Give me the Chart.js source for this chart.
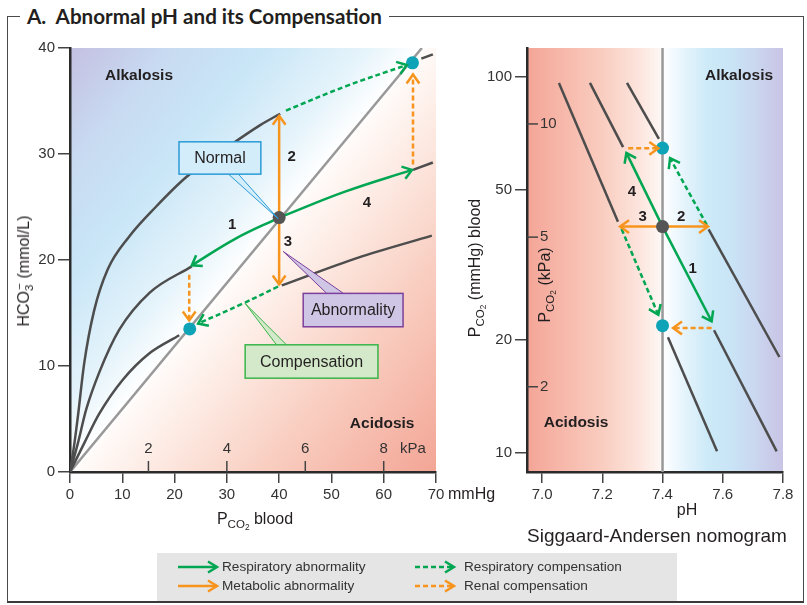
<!DOCTYPE html>
<html><head><meta charset="utf-8">
<script src="https://cdn.jsdelivr.net/npm/chart.js@4.4.1/dist/chart.umd.min.js"></script>
<style>
html,body{margin:0;padding:0;background:#fff}
body{width:807px;height:605px;position:relative;overflow:hidden;font-family:"Liberation Sans",Arial,sans-serif;color:#231f20}
#frame{position:absolute;left:7px;top:16px;width:797px;height:587px;box-sizing:border-box;border:1.5px solid #4a4a4a;border-bottom:2.5px solid #3a3a3a}
#title{position:absolute;left:20px;top:3px;padding:0 7px;background:#fff;font:bold 20px Lato,"Open Sans",sans-serif;white-space:nowrap;line-height:26px;color:#231f20}
#title span{display:inline-block;transform-origin:left center}
canvas{position:absolute;top:0}
#cL{left:0}
#cR{left:460px}
.lbl{position:absolute;white-space:nowrap;font-size:16px;line-height:1;color:#231f20}
.rot{transform:translate(-50%,-50%) rotate(-90deg)}
.ctr{transform:translate(-50%,-50%)}
sub{font-size:0.72em;vertical-align:-0.32em;line-height:0}
sup{font-size:0.72em;vertical-align:0.55em;line-height:0}
#legend{position:absolute;left:157px;top:553px;width:520px;height:48px;background:#e5e5e5}
.li{position:absolute;font-size:13.6px;line-height:1;color:#333;white-space:nowrap}
.la{position:absolute}
</style></head>
<body>
<div id="frame"></div>
<div id="title"><span id="titleText">A.&nbsp; Abnormal pH and its Compensation</span></div>
<canvas id="cL" width="460" height="540"></canvas>
<canvas id="cR" width="347" height="540"></canvas>

<div class="lbl rot" style="left:24px;top:271px">HCO<sub>3</sub><sup style="margin-left:-0.45em">−</sup> (mmol/L)</div>
<div class="lbl" style="left:448px;top:486px">mmHg</div>
<div class="lbl ctr" style="left:255px;top:519px">P<sub>CO<sub>2</sub></sub> blood</div>
<div class="lbl rot" style="left:475px;top:268px">P<sub>CO<sub>2</sub></sub> (mmHg) blood</div>
<div class="lbl rot" style="left:545px;top:285px">P<sub>CO<sub>2</sub></sub> (kPa)</div>
<div class="lbl ctr" style="left:687px;top:510px">pH</div>
<div class="lbl ctr" style="left:657px;top:535px;font-size:19px">Siggaard-Andersen nomogram</div>

<div id="legend">
  <svg class="la" style="left:20px;top:7px" width="44" height="14"><line x1="1" y1="7" x2="40" y2="7" stroke="#00a651" stroke-width="2.5"/><polyline points="31,1.5 40,7 31,12.5" fill="none" stroke="#00a651" stroke-width="2.5"/></svg>
  <div class="li" style="left:65px;top:7px">Respiratory abnormality</div>
  <svg class="la" style="left:20px;top:26px" width="44" height="14"><line x1="1" y1="7" x2="40" y2="7" stroke="#f7941d" stroke-width="2.5"/><polyline points="31,1.5 40,7 31,12.5" fill="none" stroke="#f7941d" stroke-width="2.5"/></svg>
  <div class="li" style="left:65px;top:26px">Metabolic abnormality</div>
  <svg class="la" style="left:257px;top:7px" width="44" height="14"><line x1="1" y1="7" x2="40" y2="7" stroke="#00a651" stroke-width="2.5" stroke-dasharray="5,3"/><polyline points="31,1.5 40,7 31,12.5" fill="none" stroke="#00a651" stroke-width="2.5"/></svg>
  <div class="li" style="left:307px;top:7px">Respiratory compensation</div>
  <svg class="la" style="left:257px;top:26px" width="44" height="14"><line x1="1" y1="7" x2="40" y2="7" stroke="#f7941d" stroke-width="2.5" stroke-dasharray="5,3"/><polyline points="31,1.5 40,7 31,12.5" fill="none" stroke="#f7941d" stroke-width="2.5"/></svg>
  <div class="li" style="left:307px;top:26px">Renal compensation</div>
</div>

<script>
// ================= DATA =================
// Left diagram: HCO3- (mmol/L) vs PCO2 (mmHg)
const leftXTicks = [0, 10, 20, 30, 40, 50, 60, 70];
const leftYTicks = [0, 10, 20, 30, 40];
const kpaTicksLeft = [2, 4, 6, 8];
const mmHgPerKpa = 7.5;

const phLine74 = [{x:0,y:0},{x:67.3,y:40}];
const bufferHighA = [{x:0,y:0},{x:0.7,y:2.2},{x:1.5,y:5.2},{x:2.7,y:10.2},{x:4.6,y:15.2},{x:7.2,y:19.1},{x:11.3,y:22.2},{x:16.4,y:25.0},{x:22.2,y:27.8},{x:30.0,y:30.6},{x:36.3,y:32.7},{x:40.2,y:33.8}];
const bufferHighB = [{x:67.2,y:39.0},{x:69.4,y:39.4}];
const bufferNormalA = [{x:0,y:0},{x:1.5,y:2.7},{x:3.1,y:5.9},{x:5.6,y:9.4},{x:9.4,y:13.4},{x:15.2,y:16.9},{x:23.3,y:19.4}];
const bufferNormalB = [{x:65.6,y:28.5},{x:69.4,y:29.2}];
const bufferLowA = [{x:0,y:0},{x:2.7,y:2.7},{x:5.6,y:5.5},{x:10.1,y:8.7},{x:15.2,y:11.2},{x:20.9,y:12.9}];
const bufferLowB = [{x:40.5,y:17.6},{x:55.0,y:20.2},{x:69.2,y:22.3}];

const respAbn1 = [{x:40,y:24},{x:31.6,y:22.0},{x:23.3,y:19.5}];
const respAbn4 = [{x:40,y:24},{x:52.6,y:26.45},{x:65.4,y:28.5}];
const metAbn2 = [{x:40,y:24},{x:40,y:33.6}];
const metAbn3 = [{x:40,y:24},{x:40,y:17.7}];
const respCompHigh = [{x:41.3,y:34.1},{x:52.8,y:36.4},{x:64.4,y:38.4}];
const renalCompHigh = [{x:65.6,y:29.0},{x:65.6,y:37.5}];
const respCompLow = [{x:39.8,y:17.5},{x:33.1,y:15.9},{x:24.5,y:14.0}];
const renalCompLow = [{x:22.8,y:18.6},{x:22.8,y:14.3}];
const leftNormal = [{x:40,y:24}];
const leftCompensated = [{x:65.5,y:38.6},{x:22.9,y:13.5}];

// Right diagram: Siggaard-Andersen nomogram, PCO2 (mmHg, log) vs pH
const rightXTicks = [7.0, 7.2, 7.4, 7.6, 7.8];
const rightYTicks = [10, 20, 50, 100];
const kpaTicksRight = [2, 5, 10];
const rightPhRange = [6.95, 7.8];
const rightPco2Range = [8.9, 119.4];

const saLine1 = [{x:7.056,y:96.4},{x:7.252,y:41.2}];
const saLine2 = [{x:7.159,y:96.4},{x:7.269,y:65.1}];
const saLine3 = [{x:7.282,y:96.4},{x:7.388,y:68.4}];
const saLine4 = [{x:7.553,y:39.3},{x:7.788,y:18.0}];
const saLine5 = [{x:7.571,y:21.2},{x:7.779,y:10.1}];
const saLine6 = [{x:7.418,y:20.3},{x:7.581,y:10.1}];
const saPh74 = [{x:7.4,y:8.9},{x:7.4,y:119.4}];

const saResp1 = [{x:7.4,y:40},{x:7.563,y:22.4}];
const saResp4 = [{x:7.4,y:40},{x:7.28,y:62.8}];
const saMet2 = [{x:7.4,y:40},{x:7.551,y:40}];
const saMet3 = [{x:7.4,y:40},{x:7.259,y:40}];
const saRespCompHigh = [{x:7.547,y:40.4},{x:7.425,y:60.8}];
const saRespCompLow = [{x:7.264,y:39.4},{x:7.386,y:23.3}];
const saRenalCompHigh = [{x:7.286,y:64.6},{x:7.386,y:64.6}];
const saRenalCompLow = [{x:7.563,y:21.5},{x:7.435,y:21.5}];
const saNormal = [{x:7.4,y:40}];
const saCompensated = [{x:7.4,y:64.7},{x:7.4,y:21.8}];

// ================= STYLE =================
const GREEN='#00a651', ORANGE='#f7941d', CURVE='#4d4d4d', PHLINE='#999999', CYAN='#0ea3b6', NORMALC='#555555';
const TXT='#231f20';
const FONT="'Liberation Sans', Arial, sans-serif";
Chart.defaults.font.family = FONT;
Chart.defaults.color = '#333';

function lineDs(data, color, o={}) {
  return Object.assign({data, borderColor:color, borderWidth:2.5, pointRadius:0, showLine:true, fill:false, tension:0, order:3}, o);
}
function pointDs(data, color) {
  return {data, showLine:false, pointRadius:6.5, pointHoverRadius:6.5, pointBackgroundColor:color, pointBorderWidth:0, order:0};
}
const dash = [5,3];

function arrowHead(ctx, x1, y1, x2, y2, color) {
  const a = Math.atan2(y2-y1, x2-x1), s = 11, h = 0.62;
  ctx.save();
  ctx.strokeStyle = color; ctx.lineWidth = 2.5; ctx.lineJoin='miter'; ctx.lineCap='butt'; ctx.setLineDash([]);
  ctx.beginPath();
  ctx.moveTo(x2 - s*Math.cos(a-h), y2 - s*Math.sin(a-h));
  ctx.lineTo(x2, y2);
  ctx.lineTo(x2 - s*Math.cos(a+h), y2 - s*Math.sin(a+h));
  ctx.stroke();
  ctx.restore();
}
const arrowPlugin = {
  id:'arrows',
  afterDatasetsDraw(chart) {
    chart.data.datasets.forEach((ds, i) => {
      if (!ds.arrow) return;
      const pts = chart.getDatasetMeta(i).data, n = pts.length;
      const p = pts[n-1], q = pts[n-2];
      let qx = q.x, qy = q.y;
      if (ds.tension && p.cp1x !== undefined && Math.hypot(p.cp1x-p.x, p.cp1y-p.y) > 1) { qx = p.cp1x; qy = p.cp1y; }
      arrowHead(chart.ctx, qx, qy, p.x, p.y, ds.borderColor);
    });
  }
};

function textAt(ctx, t, x, y, font, color, align) {
  ctx.save(); ctx.font = font; ctx.fillStyle = color || TXT; ctx.textAlign = align || 'center'; ctx.textBaseline = 'middle';
  ctx.fillText(t, x, y); ctx.restore();
}

// ---- left chart annotations ----
const leftRegionLabels = [{t:'Alkalosis', x:13.2, y:37.4},{t:'Acidosis', x:59.7, y:4.6}];
const leftNumberLabels = [{t:'1', x:31.0, y:23.3},{t:'2', x:42.4, y:29.7},{t:'3', x:41.7, y:21.7},{t:'4', x:56.8, y:25.4}];
const leftCallouts = [
  {t:'Normal', box:[20.85,31.15,36.5,28.1], base:[[30.3,28.1],[32.2,28.1]], tip:[39.8,23.9], fill:'#d4edfa', stroke:'#2a9bd7'},
  {t:'Abnormality', box:[44.6,16.85,63.7,13.7], base:[[49.1,16.85],[52.3,16.85]], tip:[40.8,20.8], fill:'#cfc6e6', stroke:'#7d3f9b'},
  {t:'Compensation', box:[33.5,12.0,58.9,8.85], base:[[39.5,12.0],[41.4,12.0]], tip:[33.5,15.9], fill:'#d3e9c9', stroke:'#39b54a'}
];

const leftBg = {
  id:'leftBg',
  beforeDraw(chart) {
    const {ctx, chartArea:a, scales:{x, y}} = chart;
    const ox = x.getPixelForValue(0), oy = y.getPixelForValue(0);
    const tx = x.getPixelForValue(phLine74[1].x), ty = y.getPixelForValue(phLine74[1].y);
    let dx = tx-ox, dy = ty-oy; const L = Math.hypot(dx, dy); dx /= L; dy /= L;
    const nx = -dy, ny = dx;
    const s1 = (a.left-ox)*nx + (a.top-oy)*ny, s2 = (a.right-ox)*nx + (a.bottom-oy)*ny;
    const g = ctx.createLinearGradient(ox+s1*nx, oy+s1*ny, ox+s2*nx, oy+s2*ny);
    const w = -s1/(s2-s1);
    [[1,'#c4c0e1'],[0.72,'#c8daf1'],[0.45,'#c9e6f7'],[0.15,'#e6f4fb'],[0,'#ffffff']].forEach(([f,c]) => g.addColorStop(w*(1-f), c));
    [[0.02,'#fffaf8'],[0.2,'#fdebe4'],[0.5,'#f9d0c3'],[1,'#f3a595']].forEach(([f,c]) => g.addColorStop(w+(1-w)*f, c));
    ctx.save(); ctx.fillStyle = g; ctx.fillRect(a.left, a.top, a.right-a.left, a.bottom-a.top); ctx.restore();
  }
};

function drawCallout(ctx, x, y, c) {
  const [x1,y1,x2,y2] = [x.getPixelForValue(c.box[0]), y.getPixelForValue(c.box[1]), x.getPixelForValue(c.box[2]), y.getPixelForValue(c.box[3])];
  const b = c.base.map(p => [x.getPixelForValue(p[0]), y.getPixelForValue(p[1])]);
  const tp = [x.getPixelForValue(c.tip[0]), y.getPixelForValue(c.tip[1])];
  ctx.save();
  ctx.beginPath(); ctx.moveTo(b[0][0], b[0][1]); ctx.lineTo(tp[0], tp[1]); ctx.lineTo(b[1][0], b[1][1]); ctx.closePath();
  ctx.fillStyle = c.fill; ctx.fill();
  ctx.strokeStyle = c.stroke; ctx.lineWidth = 1;
  ctx.beginPath(); ctx.moveTo(b[0][0], b[0][1]); ctx.lineTo(tp[0], tp[1]); ctx.lineTo(b[1][0], b[1][1]); ctx.stroke();
  ctx.fillStyle = c.fill; ctx.fillRect(x1, y1, x2-x1, y2-y1);
  ctx.lineWidth = 1.5; ctx.strokeRect(x1, y1, x2-x1, y2-y1);
  ctx.restore();
  textAt(ctx, c.t, (x1+x2)/2, (y1+y2)/2 + 1, '16px '+FONT, TXT);
}

const leftAnno = {
  id:'leftAnno',
  afterDraw(chart) {
    const {ctx, chartArea:a, scales:{x, y}} = chart;
    ctx.save(); ctx.strokeStyle = '#444'; ctx.lineWidth = 1.5;
    kpaTicksLeft.forEach(k => {
      const px = x.getPixelForValue(k*mmHgPerKpa);
      ctx.beginPath(); ctx.moveTo(px, a.bottom-11); ctx.lineTo(px, a.bottom); ctx.stroke();
      textAt(ctx, String(k), px, a.bottom-23, '15px '+FONT, '#333');
    });
    ctx.restore();
    textAt(ctx, 'kPa', x.getPixelForValue(65.6), a.bottom-23, '15px '+FONT, '#333');
    leftRegionLabels.forEach(l => textAt(ctx, l.t, x.getPixelForValue(l.x), y.getPixelForValue(l.y), 'bold 15.5px '+FONT, TXT));
    leftNumberLabels.forEach(l => textAt(ctx, l.t, x.getPixelForValue(l.x), y.getPixelForValue(l.y), 'bold 15px '+FONT, TXT));
    leftCallouts.forEach(c => drawCallout(ctx, x, y, c));
  }
};

const tickFont = {family:FONT, size:15};

new Chart(document.getElementById('cL'), {
  type:'scatter',
  data:{datasets:[
    lineDs(phLine74, PHLINE, {order:6}),
    lineDs(bufferHighA, CURVE, {cubicInterpolationMode:'monotone', order:5}),
    lineDs(bufferHighB, CURVE, {order:5}),
    lineDs(bufferNormalA, CURVE, {cubicInterpolationMode:'monotone', order:5}),
    lineDs(bufferNormalB, CURVE, {order:5}),
    lineDs(bufferLowA, CURVE, {cubicInterpolationMode:'monotone', order:5}),
    lineDs(bufferLowB, CURVE, {cubicInterpolationMode:'monotone', order:5}),
    lineDs(respAbn1, GREEN, {tension:0.4, arrow:true, order:2}),
    lineDs(respAbn4, GREEN, {tension:0.4, arrow:true, order:2}),
    lineDs(metAbn2, ORANGE, {arrow:true, order:2}),
    lineDs(metAbn3, ORANGE, {arrow:true, order:2}),
    lineDs(respCompHigh, GREEN, {tension:0.4, borderDash:dash, arrow:true, order:2}),
    lineDs(renalCompHigh, ORANGE, {borderDash:dash, arrow:true, order:2}),
    lineDs(respCompLow, GREEN, {tension:0.4, borderDash:dash, arrow:true, order:2}),
    lineDs(renalCompLow, ORANGE, {borderDash:dash, arrow:true, order:2}),
    pointDs(leftNormal, NORMALC),
    pointDs(leftCompensated, CYAN)
  ]},
  options:{
    responsive:false, animation:false, devicePixelRatio:1, events:[],
    layout:{padding:{top:48, right:24, left:0, bottom:0}},
    plugins:{legend:{display:false}, tooltip:{enabled:false}},
    scales:{
      x:{type:'linear', min:0, max:70,
        afterBuildTicks:s => { s.ticks = leftXTicks.map(v => ({value:v})); },
        afterFit:s => { s.height = 68; },
        grid:{drawOnChartArea:false, drawTicks:true, tickLength:11, color:'#444', lineWidth:1.5},
        border:{display:true, color:'#2b2b2b', width:2.5},
        ticks:{color:'#333', font:tickFont, padding:3, maxRotation:0, autoSkip:false}},
      y:{type:'linear', min:0, max:40,
        afterBuildTicks:s => { s.ticks = leftYTicks.map(v => ({value:v})); },
        afterFit:s => { s.width = 70; },
        grid:{drawOnChartArea:false, drawTicks:true, tickLength:12, color:'#444', lineWidth:1.5},
        border:{display:true, color:'#2b2b2b', width:2.5},
        ticks:{color:'#333', font:tickFont, padding:3, autoSkip:false}}
    }
  },
  plugins:[leftBg, arrowPlugin, leftAnno]
});

// ---- right chart ----
const rightRegionLabels = [{t:'Alkalosis', x:7.654, y:101},{t:'Acidosis', x:7.113, y:12.0}];
const rightNumberLabels = [{t:'4', x:7.298, y:49.6},{t:'3', x:7.334, y:42.5},{t:'2', x:7.462, y:42.5},{t:'1', x:7.500, y:30.8}];

const rightBg = {
  id:'rightBg',
  beforeDraw(chart) {
    const {ctx, chartArea:a, scales:{x}} = chart;
    const g = ctx.createLinearGradient(a.left, 0, a.right, 0);
    const f = v => (x.getPixelForValue(v) - a.left) / (a.right - a.left);
    [[6.95,'#f4a597'],[7.05,'#f6b5a7'],[7.2,'#f9cdc0'],[7.32,'#fce4dc'],[7.39,'#fef6f3'],[7.4,'#ffffff'],
     [7.47,'#e6f4fc'],[7.55,'#cdeaf8'],[7.62,'#c9e5f6'],[7.7,'#cad8f0'],[7.8,'#c9c4e5']].forEach(([v,c]) => g.addColorStop(Math.max(0, Math.min(1, f(v))), c));
    ctx.save(); ctx.fillStyle = g; ctx.fillRect(a.left, a.top, a.right-a.left, a.bottom-a.top); ctx.restore();
  }
};
const rightAnno = {
  id:'rightAnno',
  afterDraw(chart) {
    const {ctx, chartArea:a, scales:{x, y}} = chart;
    ctx.save(); ctx.strokeStyle = '#444'; ctx.lineWidth = 1.5;
    kpaTicksRight.forEach(k => {
      const py = y.getPixelForValue(k*mmHgPerKpa);
      ctx.beginPath(); ctx.moveTo(a.left, py); ctx.lineTo(a.left+11, py); ctx.stroke();
      textAt(ctx, String(k), a.left+13, py, '15px '+FONT, '#333', 'left');
    });
    ctx.restore();
    rightRegionLabels.forEach(l => textAt(ctx, l.t, x.getPixelForValue(l.x), y.getPixelForValue(l.y), 'bold 15.5px '+FONT, TXT));
    rightNumberLabels.forEach(l => textAt(ctx, l.t, x.getPixelForValue(l.x), y.getPixelForValue(l.y), 'bold 15px '+FONT, TXT));
  }
};

new Chart(document.getElementById('cR'), {
  type:'scatter',
  data:{datasets:[
    lineDs(saPh74, PHLINE, {order:6}),
    lineDs(saLine1, CURVE, {order:5}),
    lineDs(saLine2, CURVE, {order:5}),
    lineDs(saLine3, CURVE, {order:5}),
    lineDs(saLine4, CURVE, {order:5}),
    lineDs(saLine5, CURVE, {order:5}),
    lineDs(saLine6, CURVE, {order:5}),
    lineDs(saResp1, GREEN, {arrow:true, order:2}),
    lineDs(saResp4, GREEN, {arrow:true, order:2}),
    lineDs(saMet2, ORANGE, {arrow:true, order:2}),
    lineDs(saMet3, ORANGE, {arrow:true, order:2}),
    lineDs(saRespCompHigh, GREEN, {borderDash:dash, arrow:true, order:2}),
    lineDs(saRespCompLow, GREEN, {borderDash:dash, arrow:true, order:2}),
    lineDs(saRenalCompHigh, ORANGE, {borderDash:dash, arrow:true, order:2}),
    lineDs(saRenalCompLow, ORANGE, {borderDash:dash, arrow:true, order:2}),
    pointDs(saNormal, NORMALC),
    pointDs(saCompensated, CYAN)
  ]},
  options:{
    responsive:false, animation:false, devicePixelRatio:1, events:[],
    layout:{padding:{top:48, right:24, left:0, bottom:0}},
    plugins:{legend:{display:false}, tooltip:{enabled:false}},
    scales:{
      x:{type:'linear', min:rightPhRange[0], max:rightPhRange[1],
        afterBuildTicks:s => { s.ticks = rightXTicks.map(v => ({value:v})); },
        afterFit:s => { s.height = 68; },
        grid:{drawOnChartArea:false, drawTicks:true, tickLength:11, color:'#444', lineWidth:1.5},
        border:{display:true, color:'#2b2b2b', width:2.5},
        ticks:{color:'#333', font:tickFont, padding:3, maxRotation:0, autoSkip:false, callback:v => Number(v).toFixed(1)}},
      y:{type:'logarithmic', min:rightPco2Range[0], max:rightPco2Range[1],
        afterBuildTicks:s => { s.ticks = rightYTicks.map(v => ({value:v})); },
        afterFit:s => { s.width = 67; },
        grid:{drawOnChartArea:false, drawTicks:true, tickLength:12, color:'#444', lineWidth:1.5},
        border:{display:true, color:'#2b2b2b', width:2.5},
        ticks:{color:'#333', font:tickFont, padding:3, autoSkip:false, callback:v => String(v)}}
    }
  },
  plugins:[rightBg, arrowPlugin, rightAnno]
});

// fit the heading to the reference width
(function(){
  const s = document.getElementById('titleText');
  const w = s.getBoundingClientRect().width;
  if (w > 0) s.style.transform = 'scaleX(' + (355 / w) + ')';
  document.getElementById('title').style.width = '355px';
})();
</script>
</body></html>
